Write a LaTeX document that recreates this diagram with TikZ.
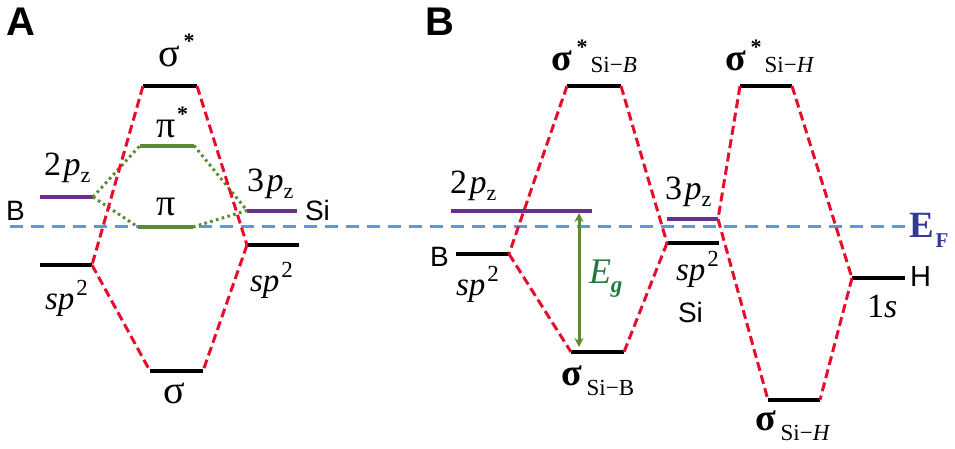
\documentclass[tikz,border=0pt]{standalone}
\usepackage{fontspec}
\setmainfont{Liberation Serif}
\setsansfont{Liberation Sans}
\usetikzlibrary{arrows.meta}
\definecolor{cred}{HTML}{E60E2A}
\definecolor{cgreen}{HTML}{5A8A32}
\definecolor{cpurple}{HTML}{6B2D90}
\definecolor{cblue}{HTML}{5B9BD5}
\definecolor{cef}{HTML}{343A94}
\definecolor{ceg}{HTML}{1F7A3C}
\newcommand\fs[1]{\fontsize{#1}{#1}\selectfont}
\newcommand\pzl[1]{{\fs{34}#1\hspace{2.5pt}\textit{p}}\raisebox{-7pt}{\fs{22}z}}
\newcommand\spl{{\fs{33}\textit{sp}}\raisebox{14pt}{\hspace{2pt}\fs{23}2}}
\newcommand\starl[1]{\raisebox{#1}{\fs{22}\bfseries *}}
\tikzset{
  x=1pt,y=-1pt,
  every node/.style={inner sep=0pt,outer sep=0pt},
  lev/.style={fill=#1,minimum height=4pt,text height=0pt,text depth=0pt},
  lev/.default=black,
  txt/.style={anchor=base west,text=black},
  sf/.style={anchor=base west,font=\sffamily\fs{28}},
  panel/.style={anchor=base west,font=\sffamily\bfseries\fs{40}},
  redl/.style={draw=cred,line width=3pt,dash pattern=on 9pt off 4.5pt},
  dotl/.style={draw=cgreen,line width=3pt,dash pattern=on 2.6pt off 3.4pt},
  efl/.style={draw=cblue,line width=2.3pt,dash pattern=on 13pt off 8pt},
}
\begin{document}
\begin{tikzpicture}
\useasboundingbox (0,0) rectangle (955,448);
% Fermi
\node[txt,text=cef] (ef) at (909,237) {{\fs{37}\bfseries E}\raisebox{-10pt}{\hspace{2pt}\fs{21}\bfseries F}};
\coordinate (efs) at (10,226.5);
\draw[efl] (efs) -- (906,226.5);
% panel A levels
\node[lev,minimum width=54pt] (As) at (170,86) {};
\node[lev=cgreen,minimum width=54pt] (Ap) at (167,145.5) {};
\node[lev=cgreen,minimum width=55pt] (Apb) at (165.5,227) {};
\node[lev=cpurple,minimum width=53pt] (A2p) at (66.5,197) {};
\node[lev=cpurple,minimum width=50pt] (A3p) at (272,210.5) {};
\node[lev,minimum width=52pt] (Asl) at (66,265) {};
\node[lev,minimum width=52pt] (Asr) at (273,245) {};
\node[lev,minimum width=53pt] (Asb) at (176.5,371) {};
% panel B levels
\node[lev,minimum width=54pt] (Bsb) at (594,86) {};
\node[lev,minimum width=52pt] (Bsh) at (766,86) {};
\node[lev=cpurple,minimum width=141pt] (B2p) at (521.5,211) {};
\node[lev=cpurple,minimum width=51pt] (B3p) at (692.5,219) {};
\node[lev,minimum width=53pt] (Bsl) at (482.5,254) {};
\node[lev,minimum width=52pt] (Bsr) at (693,243) {};
\node[lev,minimum width=53pt] (Bbb) at (597.5,352) {};
\node[lev,minimum width=52pt] (Bbh) at (794,400) {};
\node[lev,minimum width=53pt] (B1s) at (878.5,278) {};
% dotted pi connectors
\draw[dotl] (A2p.east) -- (Ap.west);
\draw[dotl] (A2p.east) -- (Apb.west);
\draw[dotl] (Ap.east) -- (A3p.west);
\draw[dotl] (Apb.east) -- (A3p.west);
% red A
\draw[redl] (As.west) -- (Asl.east);
\draw[redl] (Asl.east) -- (Asb.west);
\draw[redl] (As.east) -- (Asr.west);
\draw[redl] (Asr.west) -- (Asb.east);
% red B
\draw[redl] (Bsb.west) -- (Bsl.east);
\draw[redl] (Bsl.east) -- (Bbb.west);
\draw[redl] (Bsb.east) -- (Bsr.west);
\draw[redl] (Bsr.west) -- (Bbb.east);
\draw[redl] (Bsh.west) -- (B3p.east);
\draw[redl] (B3p.east) -- (Bbh.west);
\draw[redl] (Bsh.east) -- (B1s.west);
\draw[redl] (B1s.west) -- (Bbh.east);
% gap arrow
\coordinate (gt) at (579,213);
\coordinate (gb) at (579,347);
\draw[cgreen,line width=3pt,{Stealth[length=9pt,width=9pt]}-{Stealth[length=9pt,width=9pt]}] (gt) -- (gb);
% panel labels
\node[panel] (la) at (6,35) {A};
\node[panel] (lb) at (425,35) {B};
% panel A text
\node[txt] (t1) at (158,66) {{\fs{40}σ}\hspace{4pt}\starl{18pt}};
\node[txt] (t2) at (156,137) {{\fs{38}π}\hspace{2pt}\starl{16pt}};
\node[txt] (t3) at (156,215) {{\fs{38}π}};
\node[txt] (t4) at (44,175) {\pzl{2}};
\node[txt] (t5) at (247,191) {\pzl{3}};
\node[sf] (t6) at (6,220) {B};
\node[sf] (t7) at (305,220) {Si};
\node[txt] (t8) at (45,309) {\spl};
\node[txt] (t9) at (250,291) {\spl};
\node[txt] (t10) at (163,403) {{\fs{40}σ}};
% panel B text
\node[txt] (u1) at (551,70) {{\fs{38}\bfseries σ}\hspace{5pt}\starl{16pt}\hspace{3pt}\raisebox{-2pt}{\fs{23}Si−\textit{B}}};
\node[txt] (u2) at (725,70) {{\fs{38}\bfseries σ}\hspace{5pt}\starl{16pt}\hspace{3pt}\raisebox{-2pt}{\fs{23}Si−\textit{H}}};
\node[txt] (u3) at (450,193) {\pzl{2}};
\node[txt] (u4) at (665,199) {\pzl{3}};
\node[sf] (u5) at (430,266) {B};
\node[txt] (u6) at (456,295) {\spl};
\node[txt] (u7) at (676,280) {\spl};
\node[sf] (u8) at (678,322) {Si};
\node[txt] (u9) at (561,385) {{\fs{38}\bfseries σ}\hspace{5pt}\raisebox{-10pt}{\fs{23}Si−B}};
\node[txt] (u10) at (755,430) {{\fs{38}\bfseries σ}\hspace{5pt}\raisebox{-10pt}{\fs{23}Si−\textit{H}}};
\node[sf,font=\sffamily\fs{29}] (u11) at (910,286) {H};
\node[txt] (u12) at (867,317) {{\fs{34}1\textit{s}}};
\node[txt,text=ceg] (u13) at (589,283) {{\fs{36}\itshape E}\raisebox{-9pt}{\fs{23}\bfseries\itshape g}};
\end{tikzpicture}
\end{document}
